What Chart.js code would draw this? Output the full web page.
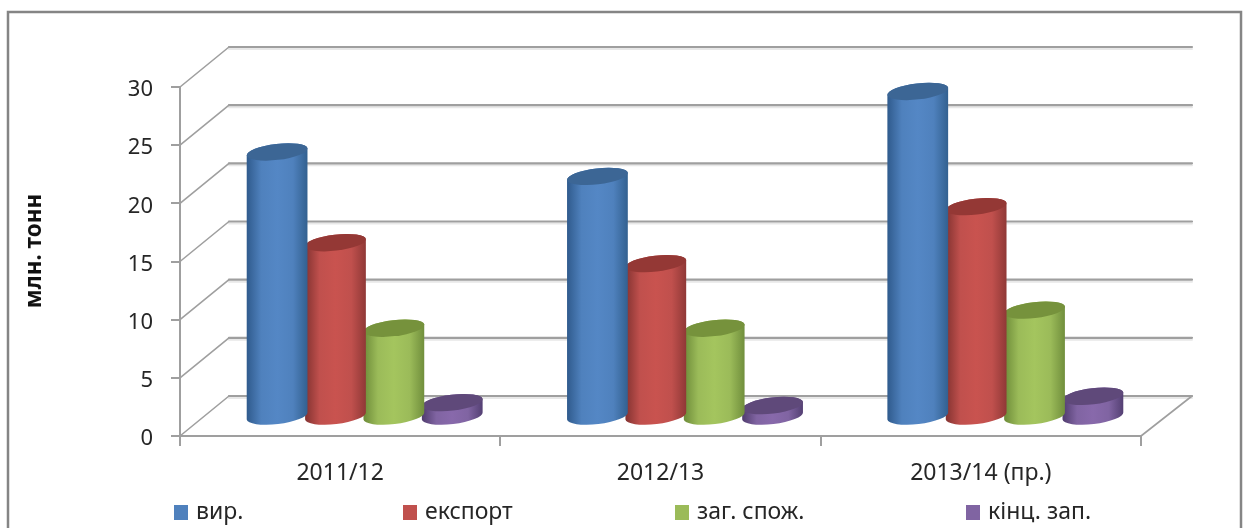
<!DOCTYPE html>
<html><head><meta charset="utf-8">
<style>html,body{margin:0;padding:0;background:#fff}#w{width:1248px;height:528px}canvas{display:block;filter:blur(.5px)}</style>
<script src="https://cdn.jsdelivr.net/npm/chart.js@4"></script></head>
<body><div id="w"><canvas id="c" width="1248" height="528"></canvas></div>
<script>
const categories = ['2011/12', '2012/13', '2013/14 (пр.)'];
const seriesNames = ['вир.', 'експорт', 'заг. спож.', 'кінц. зап.'];
const vyr = [22.7, 20.6, 27.9];
const eksport = [14.9, 13.1, 18.0];
const zagSpozh = [7.55, 7.55, 9.1];
const kincZap = [1.15, 0.9, 1.7];
const yTitle = 'млн. тонн';

const FONT = '"Noto Sans", sans-serif';
const GRID = '#9f9f9f';
const DX = 49, DY = -40;
const looks = [
  {base:'#4f81bd', l:'#2f5a8c', m:'#5487c5', r:'#32608f', top:'#3c6695'},
  {base:'#c0504d', l:'#823230', m:'#c9534f', r:'#8f3836', top:'#943835'},
  {base:'#9bbb59', l:'#6c8a38', m:'#a4c55e', r:'#708e3c', top:'#76923c'},
  {base:'#8064a2', l:'#4f3b6d', m:'#8869ab', r:'#533f72', top:'#5f497a'}
];
const legendX = [174, 403, 675, 966];

const plugin3d = {
  id: 'plugin3d',
  beforeDraw(chart) {
    const ctx = chart.ctx;
    ctx.save();
    ctx.strokeStyle = '#858585';
    ctx.lineWidth = 2.5;
    ctx.strokeRect(8, 12, 1233, 540);
    ctx.restore();
  },
  beforeDatasetsDraw(chart) {
    const ctx = chart.ctx, y = chart.scales.y, a = chart.chartArea;
    ctx.save();
    ctx.lineCap = 'round';
    for (const t of y.ticks) {
      const py = y.getPixelForValue(t.value);
      ctx.strokeStyle = 'rgba(190,190,190,.35)';
      ctx.lineWidth = 2;
      ctx.beginPath(); ctx.moveTo(a.left + DX, py + DY + 2); ctx.lineTo(a.right + DX + 2, py + DY + 2); ctx.stroke();
      ctx.strokeStyle = GRID;
      ctx.lineWidth = 1.6;
      ctx.beginPath(); ctx.moveTo(a.left, py); ctx.lineTo(a.left + DX, py + DY); ctx.stroke();
      ctx.lineWidth = 2.2;
      ctx.beginPath(); ctx.moveTo(a.left + DX, py + DY); ctx.lineTo(a.right + DX + 2, py + DY); ctx.stroke();
    }
    const by = y.getPixelForValue(0);
    ctx.lineWidth = 1.6;
    ctx.beginPath(); ctx.moveTo(a.right, by); ctx.lineTo(a.right + DX + 2, by + DY); ctx.stroke();
    ctx.restore();
  },
  beforeDatasetDraw(chart, args) {
    const ctx = chart.ctx, look = looks[args.index];
    const y0 = chart.scales.y.getPixelForValue(0) + DY / 2;
    for (const el of args.meta.data) {
      const cx = el.x + DX / 2, yt = el.y + DY / 2;
      const rx = el.width / 2 + 1.4, ry = 8, rot = -0.118;
      const g = ctx.createLinearGradient(cx - rx, 0, cx + rx, 0);
      g.addColorStop(0, look.l); g.addColorStop(0.24, look.base);
      g.addColorStop(0.5, look.m); g.addColorStop(0.76, look.base); g.addColorStop(1, look.r);
      ctx.save();
      ctx.fillStyle = g;
      ctx.beginPath();
      ctx.ellipse(cx, y0, rx, ry, rot, 0, Math.PI);
      ctx.ellipse(cx, yt, rx, ry, rot, Math.PI, 2 * Math.PI);
      ctx.closePath();
      ctx.fill();
      ctx.fillStyle = look.top;
      ctx.beginPath();
      ctx.ellipse(cx, yt, rx, ry, rot, 0, 2 * Math.PI);
      ctx.fill();
      ctx.restore();
    }
    return false;
  },
  afterDraw(chart) {
    const ctx = chart.ctx;
    ctx.save();
    ctx.font = '23px ' + FONT;
    ctx.textBaseline = 'middle';
    chart.data.datasets.forEach((d, i) => {
      ctx.fillStyle = d.backgroundColor;
      ctx.fillRect(legendX[i], 505, 14, 15);
      ctx.fillStyle = '#262626';
      ctx.fillText(d.label, legendX[i] + 22, 512);
    });
    ctx.font = 'bold 22.5px ' + FONT;
    ctx.textBaseline = 'alphabetic';
    ctx.textAlign = 'center';
    ctx.fillStyle = '#111';
    ctx.translate(41, 251);
    ctx.rotate(-Math.PI / 2);
    ctx.fillText(yTitle, 0, 0);
    ctx.restore();
  }
};

const datasets = [vyr, eksport, zagSpozh, kincZap].map((data, i) => ({
  label: seriesNames[i], data, backgroundColor: looks[i].base,
  categoryPercentage: 0.729, barPercentage: 1
}));

new Chart(document.getElementById('c'), {
  type: 'bar',
  data: { labels: categories, datasets },
  plugins: [plugin3d],
  options: {
    responsive: false, animation: false,
    layout: { padding: { left: 20, right: 107, top: 87, bottom: 0 } },
    plugins: { legend: { display: false }, tooltip: { enabled: false }, title: { display: false } },
    scales: {
      x: {
        grid: { drawOnChartArea: false, drawTicks: true, tickLength: 10, color: GRID, lineWidth: 2 },
        border: { display: true, color: GRID, width: 2 },
        ticks: { font: { family: FONT, size: 23 }, color: '#262626', padding: 14, maxRotation: 0, autoSkip: false },
        afterFit(s) { s.height = 92; }
      },
      y: {
        min: 0, max: 30,
        grid: { drawOnChartArea: false, drawTicks: true, tickLength: 9, color: GRID, lineWidth: 2 },
        border: { display: true, color: GRID, width: 2 },
        ticks: { stepSize: 5, font: { family: FONT, size: 22 }, color: '#262626', padding: 18, labelOffset: 3 },
        afterFit(s) { s.width = 160; }
      }
    }
  }
});
</script></body></html>
